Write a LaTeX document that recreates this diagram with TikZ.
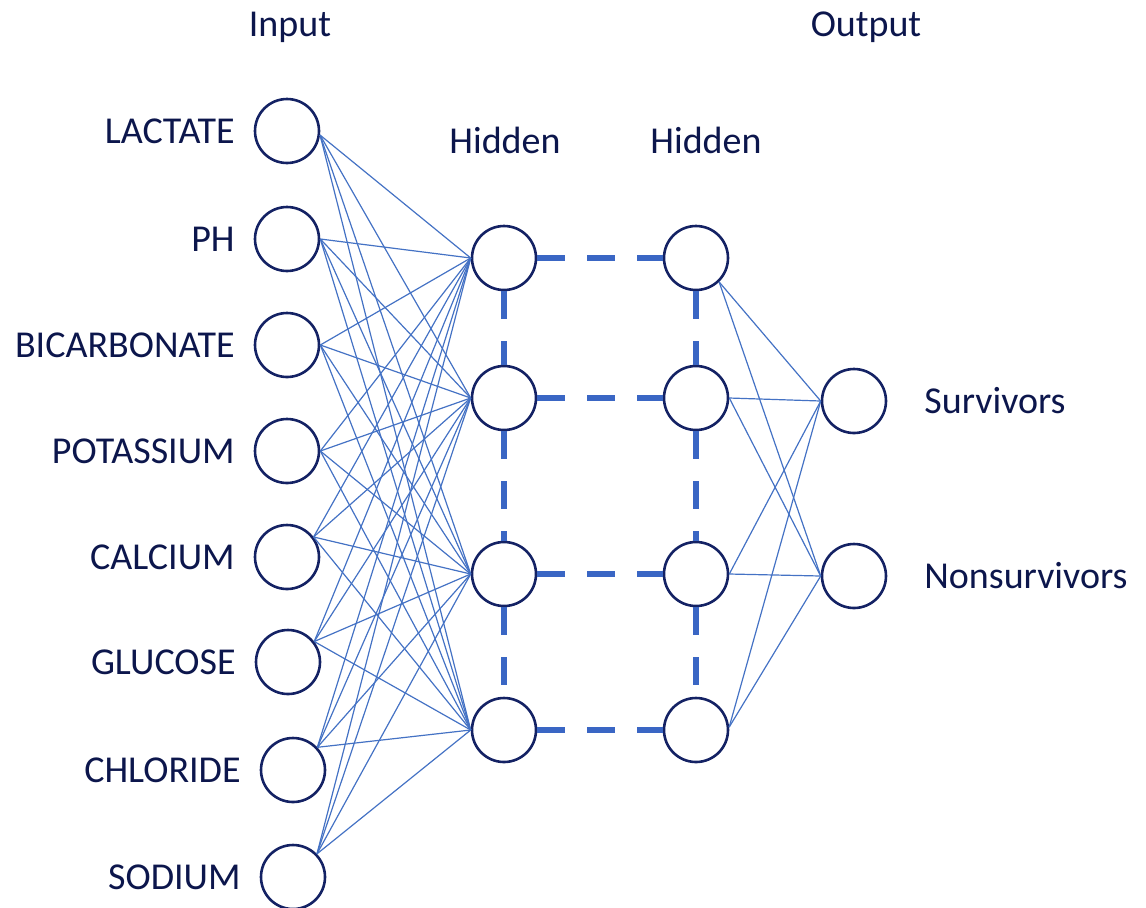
\documentclass[tikz,border=0pt]{standalone}
\usepackage{fontspec}
\setmainfont{Carlito}
\usetikzlibrary{positioning}

\definecolor{navy}{RGB}{20,34,100}
\definecolor{wire}{RGB}{68,114,196}
\definecolor{bar}{RGB}{58,102,196}
\definecolor{ink}{RGB}{12,22,76}

\tikzset{
  neuron/.style={circle, draw=navy, line width=1.3pt, minimum size=32pt, inner sep=0pt},
  link/.style={wire, line width=0.6pt},
  skip/.style={bar, line width=3pt, dash pattern=on 14pt off 11pt},
  tag/.style={text=ink, font=\fontsize{19}{22}\selectfont},
}

\begin{document}
\begin{tikzpicture}[x=0.5pt, y=-0.5pt]
    \useasboundingbox (0,0) rectangle (1146,907);

    % layer headings
    \node[tag] (inhead) at (290,27) {Input};
    \node[tag] (outhead) at (866,27) {Output};
    \node[tag] (hidA) at (505,140) {Hidden};
    \node[tag] (hidB) at (706,140) {Hidden};

    % the two hidden layers
    \foreach \y [count=\j] in {258,398,574,730} {
        \node[neuron] (ha\j) at (504,\y) {};
        \node[neuron] (hb\j) at (696,\y) {};
        \draw[skip] (ha\j) -- (hb\j);
    }
    \foreach \j/\k in {1/2,2/3,3/4} {
        \draw[skip] (ha\j) -- (ha\k);
        \draw[skip] (hb\j) -- (hb\k);
    }

    % output layer
    \node[neuron, label={[tag, label distance=15pt]right:Survivors}] (out1) at (854,401) {};
    \node[neuron, label={[tag, label distance=15pt]right:Nonsurvivors}] (out2) at (854,576) {};

    % inputs, each wired to every node of the first hidden layer
    \foreach \name/\x/\y/\ang [count=\i] in {LACTATE/287/131/-7, PH\ /287/239/0,
        BICARBONATE/287/345/0, POTASSIUM/287/451/0, CALCIUM/287/557/37,
        GLUCOSE/288/662/38, CHLORIDE/293/770/43, SODIUM/293/877/44} {
        \node[neuron, label={[tag, label distance=6pt]left:\name}] (in\i) at (\x,\y) {};
        \foreach \j in {1,...,4}
            \draw[link] (in\i.\ang) -- (ha\j.west);
    }

    \foreach \j/\ang in {1/-46, 2/0, 3/0, 4/5} {
        \foreach \k in {1,2}
            \draw[link] (hb\j.\ang) -- (out\k.west);
    }
\end{tikzpicture}
\end{document}
